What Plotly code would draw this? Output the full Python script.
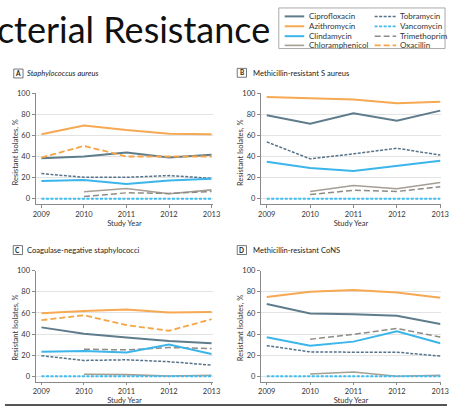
import plotly.graph_objects as go

W, H = 454, 407

years = [2009, 2010, 2011, 2012, 2013]
drugs = ["Ciprofloxacin", "Azithromycin", "Clindamycin", "Chloramphenicol",
         "Tobramycin", "Vancomycin", "Trimethoprim", "Oxacillin"]

# Panel A: Staphylococcus aureus
cipro_A = [38.4, 40.0, 43.8, 39.0, 41.6]
azithro_A = [61.0, 69.4, 65.0, 61.6, 61.0]
clinda_A = [16.9, 17.8, 14.0, 17.2, 19.0]
chloram_A = [None, 6.6, 9.7, 4.7, 8.4]
tobra_A = [23.8, 20.3, 20.3, 21.9, 19.4]
vanco_A = [0, 0, 0, 0, 0]
trimeth_A = [None, 2.2, 5.6, 5.0, 6.9]
oxa_A = [39.0, 50.0, 40.0, 40.0, 40.0]

# Panel B: Methicillin-resistant S aureus
cipro_B = [79.0, 71.0, 81.0, 73.8, 83.4]
azithro_B = [96.3, 95.0, 94.0, 90.3, 91.9]
clinda_B = [35.0, 29.0, 26.3, 31.3, 36.0]
chloram_B = [None, 6.9, 12.5, 9.4, 15.3]
tobra_B = [53.8, 37.8, 42.5, 47.8, 41.3]
vanco_B = [0, 0, 0, 0, 0]
trimeth_B = [None, 4.0, 8.0, 6.9, 11.3]

# Panel C: Coagulase-negative staphylococci
cipro_C = [46.3, 40.3, 36.6, 33.4, 31.3]
azithro_C = [59.7, 61.9, 63.1, 60.3, 60.9]
clinda_C = [23.1, 24.0, 22.5, 30.0, 21.0]
chloram_C = [None, 1.9, 1.6, 0.3, 0.9]
tobra_C = [19.4, 15.0, 15.6, 13.8, 10.6]
vanco_C = [0, 0, 0, 0, 0]
trimeth_C = [None, 25.6, 25.0, 27.2, 26.3]
oxa_C = [53.1, 57.8, 48.4, 43.1, 54.0]

# Panel D: Methicillin-resistant CoNS
cipro_D = [68.4, 59.4, 58.8, 57.2, 49.4]
azithro_D = [75.0, 80.0, 81.6, 79.4, 74.4]
clinda_D = [36.9, 28.8, 32.8, 42.5, 31.3]
chloram_D = [None, 2.2, 4.1, 0.0, 0.9]
tobra_D = [29.0, 23.1, 22.8, 22.8, 19.1]
vanco_D = [0, 0, 0, 0, 0]
trimeth_D = [None, 35.0, 39.7, 45.3, 37.2]

panel_letters = ["A", "B", "C", "D"]
panel_titles = ["<i>Staphylococcus aureus</i>", "Methicillin-resistant S aureus",
                "Coagulase-negative staphylococci", "Methicillin-resistant CoNS"]
y_ticks = [0, 20, 40, 60, 80, 100]
x_title = "Study Year"
y_title = "Resistant Isolates, %"
main_title = "Bacterial Resistance"

panels = [
    {"Ciprofloxacin": cipro_A, "Azithromycin": azithro_A, "Clindamycin": clinda_A,
     "Chloramphenicol": chloram_A, "Tobramycin": tobra_A, "Vancomycin": vanco_A,
     "Trimethoprim": trimeth_A, "Oxacillin": oxa_A},
    {"Ciprofloxacin": cipro_B, "Azithromycin": azithro_B, "Clindamycin": clinda_B,
     "Chloramphenicol": chloram_B, "Tobramycin": tobra_B, "Vancomycin": vanco_B,
     "Trimethoprim": trimeth_B},
    {"Ciprofloxacin": cipro_C, "Azithromycin": azithro_C, "Clindamycin": clinda_C,
     "Chloramphenicol": chloram_C, "Tobramycin": tobra_C, "Vancomycin": vanco_C,
     "Trimethoprim": trimeth_C, "Oxacillin": oxa_C},
    {"Ciprofloxacin": cipro_D, "Azithromycin": azithro_D, "Clindamycin": clinda_D,
     "Chloramphenicol": chloram_D, "Tobramycin": tobra_D, "Vancomycin": vanco_D,
     "Trimethoprim": trimeth_D},
]

# ---- styling ----
FONT = "Lato"
styles = {
    "Ciprofloxacin": dict(color="#5f7c8c", width=2.0, dash="solid"),
    "Azithromycin": dict(color="#f7a852", width=2.0, dash="solid"),
    "Clindamycin": dict(color="#3cb5ea", width=2.0, dash="solid"),
    "Chloramphenicol": dict(color="#a59e94", width=1.6, dash="solid"),
    "Tobramycin": dict(color="#56738a", width=1.5, dash="3px,1.5px"),
    "Vancomycin": dict(color="#3fbdf0", width=1.8, dash="3px,1.5px"),
    "Trimethoprim": dict(color="#8e8b86", width=1.5, dash="6px,3px"),
    "Oxacillin": dict(color="#f7a447", width=1.8, dash="6px,3px"),
}
draw_order = ["Chloramphenicol", "Trimethoprim", "Tobramycin", "Clindamycin",
              "Ciprofloxacin", "Oxacillin", "Azithromycin", "Vancomycin"]


def px_x(v):
    return v / W


def px_y(v):
    return 1 - v / H


# domains in pixels: (x0, x1, ytop, ybottom)
dom = [
    (33.3, 215.0, 90.0, 202.0),
    (263.7, 448.0, 90.0, 202.0),
    (33.3, 215.0, 269.3, 381.3),
    (263.7, 448.0, 269.3, 381.3),
]
xranges = [[2008.862, 2013.04], [2008.865, 2013.02], [2008.862, 2013.04], [2008.865, 2013.02]]
ytitle_pos = [(13.3, 150), (242.7, 150), (13.3, 327), (242.7, 327)]

fig = go.Figure()
layout = {}
shapes = []
annotations = []
for i, data in enumerate(panels):
    sfx = "" if i == 0 else str(i + 1)
    for name in draw_order:
        if name not in data:
            continue
        st = styles[name]
        fig.add_trace(go.Scatter(
            x=years, y=data[name], name=name, mode="lines",
            line=dict(color=st["color"], width=st["width"], dash=st["dash"]),
            xaxis="x" + sfx, yaxis="y" + sfx, showlegend=False,
            connectgaps=False, hoverinfo="x+y+name"))
    x0, x1, yt, yb = dom[i]
    layout["xaxis" + sfx] = dict(
        domain=[px_x(x0), px_x(x1)], range=xranges[i], anchor="y" + sfx,
        tickvals=years, ticktext=[str(y) for y in years],
        showgrid=False, zeroline=False, showline=True, linecolor="#8a8a8a", linewidth=1,
        ticks="outside", ticklen=2.5, tickcolor="#8a8a8a",
        tickfont=dict(family=FONT, size=7.5, color="#333"),
        title=dict(text=x_title, font=dict(family=FONT, size=7.5, color="#333"), standoff=1),
        fixedrange=True)
    layout["yaxis" + sfx] = dict(
        domain=[px_y(yb), px_y(yt)], range=[-5, 100], anchor="x" + sfx,
        tickvals=y_ticks, showgrid=True, gridcolor="#e3e3e3", gridwidth=1,
        zeroline=False, showline=True, linecolor="#8a8a8a", linewidth=1,
        ticks="outside", ticklen=3, tickcolor="#8a8a8a",
        tickfont=dict(family=FONT, size=7.5, color="#333"),
        fixedrange=True)
    tx, ty = ytitle_pos[i]
    annotations.append(dict(text=y_title, xref="paper", yref="paper",
                            x=px_x(tx), y=px_y(ty), xanchor="center", yanchor="middle",
                            textangle=-90, showarrow=False,
                            font=dict(family=FONT, size=7.5, color="#333")))

# main (cropped) title
annotations.append(dict(
    text=main_title, xref="paper", yref="paper", x=px_x(275), y=px_y(25.5),
    xanchor="right", yanchor="middle", showarrow=False,
    font=dict(family=FONT, size=36, color="#111")))

# panel labels
label_pos = [(11, 65.7, 23, 70), (239.5, 65, 254, 69.3), (10.5, 244, 23, 248.5),
             (239.5, 244, 254, 248.5)]
for i, (bx, by, tx, ty) in enumerate(label_pos):
    shapes.append(dict(type="rect", xref="paper", yref="paper",
                       x0=px_x(bx), x1=px_x(bx + 9.5), y0=px_y(by + 9), y1=px_y(by),
                       line=dict(color="#555", width=0.8), fillcolor="white"))
    annotations.append(dict(text="<b>%s</b>" % panel_letters[i], xref="paper", yref="paper",
                            x=px_x(bx + 4.75), y=px_y(by + 4.5), xanchor="center",
                            yanchor="middle", showarrow=False,
                            font=dict(family=FONT, size=6.5, color="#222")))
    annotations.append(dict(text=panel_titles[i], xref="paper", yref="paper",
                            x=px_x(tx), y=px_y(ty), xanchor="left", yanchor="middle",
                            showarrow=False, font=dict(family=FONT, size=7.6, color="#222")))

# custom legend box
shapes.append(dict(type="rect", xref="paper", yref="paper",
                   x0=px_x(282), x1=px_x(452), y0=px_y(45), y1=px_y(4),
                   line=dict(color="#aaaaaa", width=1), fillcolor="white"))
legend_cols = [["Ciprofloxacin", "Azithromycin", "Clindamycin", "Chloramphenicol"],
               ["Tobramycin", "Vancomycin", "Trimethoprim", "Oxacillin"]]
col_x = [(288, 308, 311), (380, 402, 403.5)]
row_y = [12.5, 22.5, 32.5, 41.8]
for c, names in enumerate(legend_cols):
    lx0, lx1, tx = col_x[c]
    for r, name in enumerate(names):
        st = styles[name]
        shapes.append(dict(type="line", xref="paper", yref="paper",
                           x0=px_x(lx0), x1=px_x(lx1), y0=px_y(row_y[r]), y1=px_y(row_y[r]),
                           line=dict(color=st["color"], width=st["width"], dash=st["dash"])))
        annotations.append(dict(text=name, xref="paper", yref="paper",
                                x=px_x(tx), y=px_y(row_y[r]), xanchor="left",
                                yanchor="middle", showarrow=False,
                                font=dict(family=FONT, size=8, color="#333")))

# bottom rule
shapes.append(dict(type="line", xref="paper", yref="paper", x0=px_x(2), x1=1,
                   y0=px_y(405), y1=px_y(405), line=dict(color="#555", width=2)))

fig.update_layout(
    width=W, height=H, margin=dict(l=0, r=0, t=0, b=0),
    paper_bgcolor="white", plot_bgcolor="white",
    showlegend=False, shapes=shapes, annotations=annotations,
    font=dict(family=FONT, size=7.5, color="#333"),
    **layout)

fig.write_html("out.html", config={"displayModeBar": False},
               post_script="document.body.style.margin='0';document.body.style.overflow='hidden';")
